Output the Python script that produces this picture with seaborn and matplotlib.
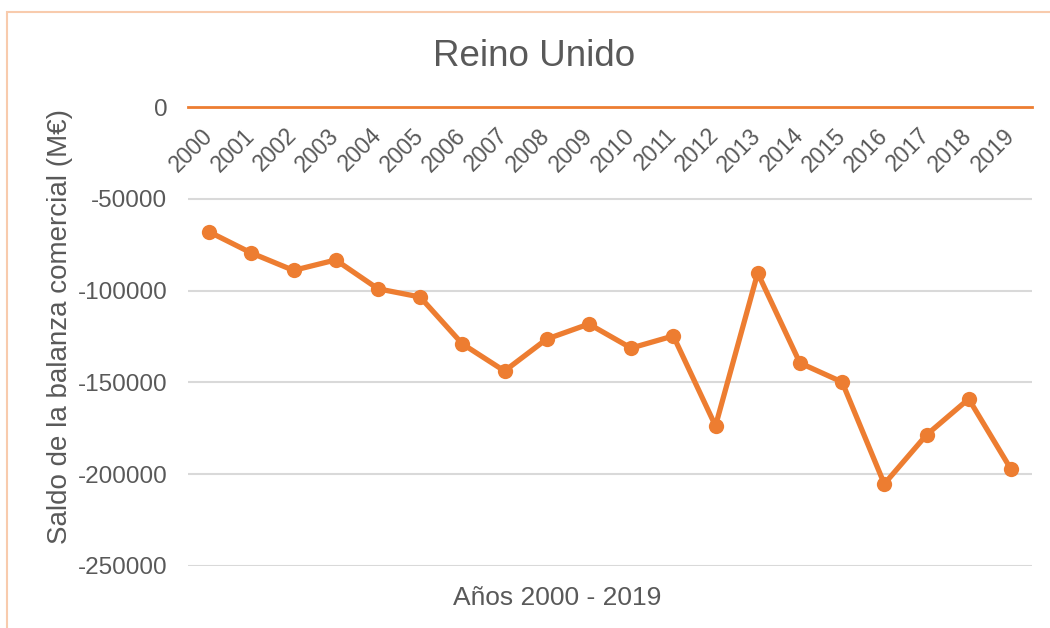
import matplotlib
matplotlib.use("Agg")
import matplotlib.pyplot as plt
import matplotlib.patches as mpatches
import numpy as np
import pandas as pd
import seaborn as sns

# datos (M€)
years = list(range(2000, 2020))
saldo = [-68000, -79500, -89000, -83300, -99000, -103500, -129000, -143800,
         -126400, -118200, -131300, -124700, -173700, -90400, -139400,
         -149800, -205300, -178600, -159000, -197200]
yticks = [0, -50000, -100000, -150000, -200000, -250000]

df = pd.DataFrame({"year": years, "saldo": saldo})

sns.set_style("white")
plt.rcParams['font.family'] = ['Liberation Sans', 'DejaVu Sans']

orange = "#ED7D31"
grey_txt = "#595959"

fig = plt.figure(figsize=(10.5, 6.28), dpi=100)
ax = fig.add_axes([188 / 1050, 1 - 566 / 628, (1032 - 188) / 1050, (566 - 107) / 628])

sns.lineplot(data=df, x="year", y="saldo", ax=ax, color=orange, linewidth=3.8,
             marker="o", markersize=11, markeredgewidth=0, zorder=3)

ax.set_xlim(1999.5, 2019.5)
ax.set_ylim(-250000, 0)
ax.set_yticks(yticks)
ax.set_yticklabels([str(v) for v in yticks], fontsize=17.5, color=grey_txt)
ax.yaxis.grid(True, color="#D9D9D9", linewidth=1.5)
ax.set_axisbelow(True)

# eje de categorias en y = 0
for s in ["left", "right", "top"]:
    ax.spines[s].set_visible(False)
ax.spines["bottom"].set_position(("data", 0))
ax.spines["bottom"].set_color(orange)
ax.spines["bottom"].set_linewidth(2)
ax.spines["bottom"].set_zorder(4)
ax.set_xticks(years)
ax.set_xticklabels([str(y) for y in years], rotation=45, ha="right", va="center",
                   rotation_mode="anchor", fontsize=16.5, color=grey_txt)
ax.tick_params(axis="x", length=0, pad=18)
ax.tick_params(axis="y", length=0, pad=15)
ax.set_xlabel("")
ax.set_ylabel("")

fig.text(534 / 1050, 1 - 56 / 628, "Reino Unido", ha="center", va="center",
         fontsize=26.5, color=grey_txt)
fig.text(557 / 1050, 1 - 598 / 628, "Años 2000 - 2019", ha="center", va="center",
         fontsize=19, color=grey_txt)
fig.text(60 / 1050, 1 - 327 / 628, "Saldo de la balanza comercial (M€)", ha="center",
         va="center", rotation=90, fontsize=20, color=grey_txt)

# marco del grafico
fig.patches.append(mpatches.Rectangle((7 / 1050, -0.1), 1.2, 1 - 12 / 628 + 0.1,
                                      transform=fig.transFigure, fill=False,
                                      edgecolor="#F8CBAD", linewidth=1.5))

plt.savefig("out.png", dpi=100)
